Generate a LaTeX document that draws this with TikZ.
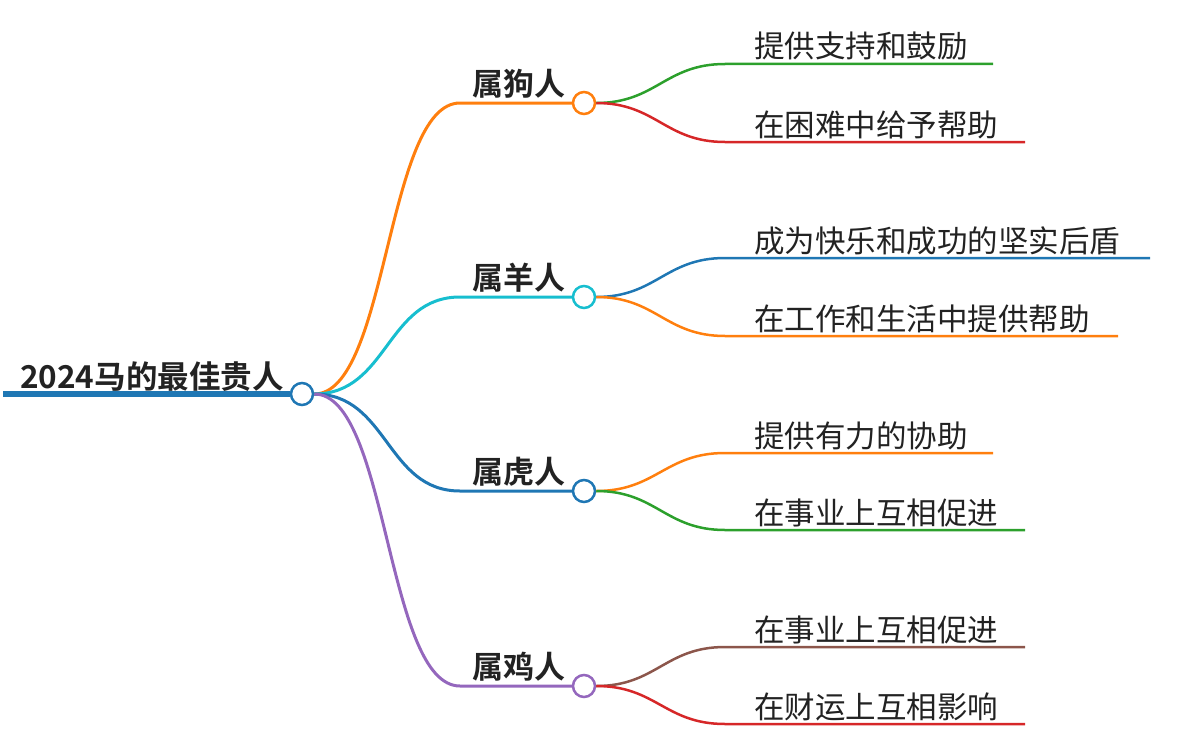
\documentclass[tikz,border=0pt]{standalone}
\usepackage{fontspec}
\setmainfont{Noto Sans CJK SC}[BoldFont={Noto Sans CJK SC Bold}]
\usepackage{tikz}
\definecolor{tabblue}{HTML}{1F77B4}
\definecolor{taborange}{HTML}{FF7F0E}
\definecolor{tabgreen}{HTML}{2CA02C}
\definecolor{tabred}{HTML}{D62728}
\definecolor{tabpurple}{HTML}{9467BD}
\definecolor{tabbrown}{HTML}{8C564B}
\definecolor{tabcyan}{HTML}{17BECF}
\definecolor{textdark}{RGB}{34,34,34}
\tikzset{
  hub/.style={
    circle,
    draw=#1,
    fill=white,
    line width=2.5pt,
    minimum size=22pt,
    inner sep=0pt
  },
  branch/.style={draw=#1, line width=3pt},
  twig/.style={draw=#1, line width=2.5pt},
  rootlabel/.style={font=\bfseries\fontsize{31.5}{31.5}\selectfont, text=textdark, anchor=base west, inner sep=0pt},
  toplabel/.style={font=\bfseries\fontsize{31}{31}\selectfont, text=textdark, anchor=base east, inner sep=0pt},
  leaflabel/.style={font=\fontsize{30.5}{30.5}\selectfont, text=textdark, anchor=base west, inner sep=0pt}
}

\begin{document}
\begin{tikzpicture}[x=1pt, y=-1pt]
\useasboundingbox (0,0) rectangle (1180,752);

% Root
\coordinate (rootstart) at (3,394);
\node[hub=tabblue] (root) at (302,394) {};
\node[rootlabel] (roottext) at (20,388) {2024马的最佳贵人};
\draw[draw=tabblue, line width=6pt] (rootstart) -- (root.west);

% Branch hubs
\node[hub=taborange] (gou) at (584,103) {};
\node[hub=tabcyan] (yang) at (584,297) {};
\node[hub=tabblue] (hu) at (584,491) {};
\node[hub=tabpurple] (ji) at (584,686) {};

\coordinate (gouin) at (460,103);
\coordinate (yangin) at (460,297);
\coordinate (huin) at (460,491);
\coordinate (jiin) at (460,686);

% Branch labels
\node[toplabel] (goutext) at (566,95) {属狗人};
\node[toplabel] (yangtext) at (566,289) {属羊人};
\node[toplabel] (hutext) at (566,483) {属虎人};
\node[toplabel] (jitext) at (566,678) {属鸡人};

% Branches
\draw[branch=taborange] (root.east) .. controls +(74,0) and +(-74,0) .. (gouin) -- (gou.west);
\draw[branch=tabcyan] (root.east) .. controls +(74,0) and +(-74,0) .. (yangin) -- (yang.west);
\draw[branch=tabblue] (root.east) .. controls +(74,0) and +(-74,0) .. (huin) -- (hu.west);
\draw[branch=tabpurple] (root.east) .. controls +(74,0) and +(-74,0) .. (jiin) -- (ji.west);

% Leaves: start and end points
\coordinate (goua) at (725,64);   \coordinate (gouaend) at (993,64);
\coordinate (goub) at (725,142);  \coordinate (goubend) at (1025,142);
\coordinate (yanga) at (725,258); \coordinate (yangaend) at (1150,258);
\coordinate (yangb) at (725,336); \coordinate (yangbend) at (1118,336);
\coordinate (hua) at (725,453);   \coordinate (huaend) at (993,453);
\coordinate (hub) at (725,530);   \coordinate (hubend) at (1025,530);
\coordinate (jia) at (725,647);   \coordinate (jiaend) at (1025,647);
\coordinate (jib) at (725,724);   \coordinate (jibend) at (1025,724);

% Leaf labels
\node[leaflabel] (gouatext) at (754,58) {提供支持和鼓励};
\node[leaflabel] (goubtext) at (754,136) {在困难中给予帮助};
\node[leaflabel] (yangatext) at (754,252) {成为快乐和成功的坚实后盾};
\node[leaflabel] (yangbtext) at (754,330) {在工作和生活中提供帮助};
\node[leaflabel] (huatext) at (754,447) {提供有力的协助};
\node[leaflabel] (hubtext) at (754,524) {在事业上互相促进};
\node[leaflabel] (jiatext) at (754,641) {在事业上互相促进};
\node[leaflabel] (jibtext) at (754,718) {在财运上互相影响};

% Leaf connections
\draw[twig=tabgreen] (gou.east) .. controls +(60,0) and +(-60,0) .. (goua) -- (gouaend);
\draw[twig=tabred] (gou.east) .. controls +(60,0) and +(-60,0) .. (goub) -- (goubend);
\draw[twig=tabblue] (yang.east) .. controls +(60,0) and +(-60,0) .. (yanga) -- (yangaend);
\draw[twig=taborange] (yang.east) .. controls +(60,0) and +(-60,0) .. (yangb) -- (yangbend);
\draw[twig=taborange] (hu.east) .. controls +(60,0) and +(-60,0) .. (hua) -- (huaend);
\draw[twig=tabgreen] (hu.east) .. controls +(60,0) and +(-60,0) .. (hub) -- (hubend);
\draw[twig=tabbrown] (ji.east) .. controls +(60,0) and +(-60,0) .. (jia) -- (jiaend);
\draw[twig=tabred] (ji.east) .. controls +(60,0) and +(-60,0) .. (jib) -- (jibend);

\end{tikzpicture}
\end{document}
